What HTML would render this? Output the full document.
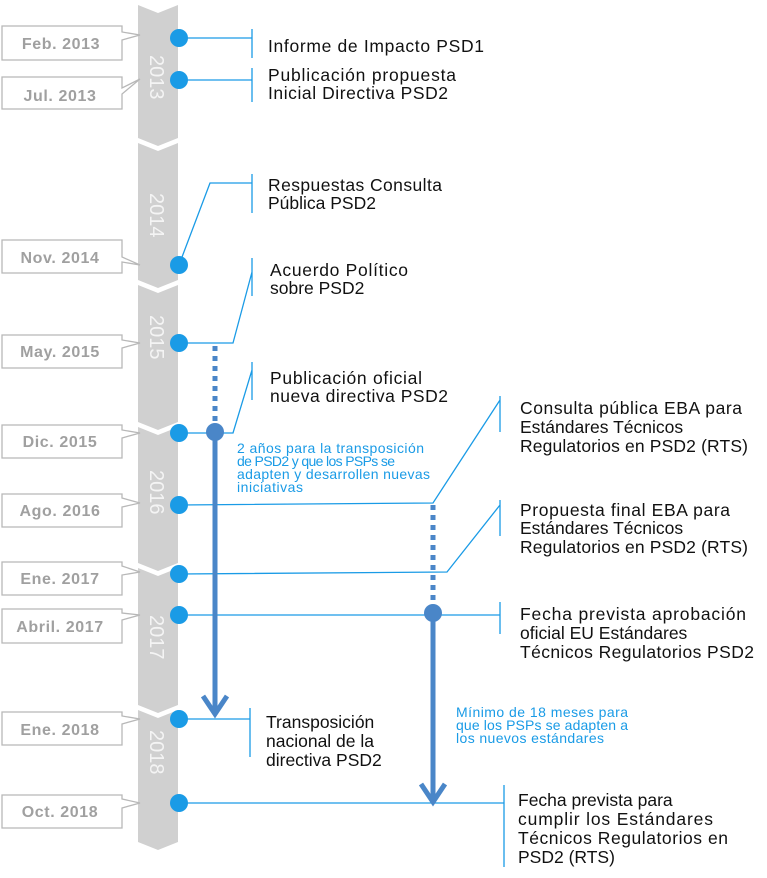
<!DOCTYPE html>
<html><head><meta charset="utf-8"><style>
html,body{margin:0;padding:0;background:#fff;}
svg{display:block;}
.d{font-family:"Liberation Sans",sans-serif;font-weight:bold;font-size:16px;fill:#a0a0a0;text-anchor:middle;letter-spacing:0.6px;}
.t{font-family:"Liberation Sans",sans-serif;font-size:17.5px;fill:#111;}
.b{font-family:"Liberation Sans",sans-serif;font-size:14px;fill:#1a9be6;}
.y{font-family:"Liberation Sans",sans-serif;font-size:20px;fill:#f4f4f4;}
</style></head><body>
<svg width="767" height="878" viewBox="0 0 767 878" xmlns="http://www.w3.org/2000/svg">
<g fill="#d0d0d0">
<polygon points="138,5 158,13 178,5 178,138 158,146 138,138"/>
<polygon points="138,143 158,151 178,143 178,280 158,288 138,280"/>
<polygon points="138,285 158,293 178,285 178,422 158,430 138,422"/>
<polygon points="138,427 158,435 178,427 178,563 158,571 138,563"/>
<polygon points="138,568 158,576 178,568 178,705 158,713 138,705"/>
<polygon points="138,710 158,718 178,710 178,842 158,850 138,842"/>
</g>
<g class="y">
<text transform="translate(150,55) rotate(90)">2013</text>
<text transform="translate(150,193) rotate(90)">2014</text>
<text transform="translate(150,315) rotate(90)">2015</text>
<text transform="translate(150,470) rotate(90)">2016</text>
<text transform="translate(150,615) rotate(90)">2017</text>
<text transform="translate(150,730) rotate(90)">2018</text>
</g>
<g fill="#fff" stroke="#b8b8b8" stroke-width="1.3">
<path d="M2,26 H122 V32 L140,35 L122,40 V60 H2 Z"/>
<path d="M2,77 H122 V88 L140,79 L122,94 V109 H2 Z"/>
<path d="M2,240 H122 V257 L140,265 L122,262 V273 H2 Z"/>
<path d="M2,335 H122 V340 L140,343 L122,348 V368 H2 Z"/>
<path d="M2,425 H122 V430 L140,433 L122,438 V458 H2 Z"/>
<path d="M2,494 H122 V498 L140,503 L122,507 V527 H2 Z"/>
<path d="M2,562 H122 V566 L140,572 L122,575 V595 H2 Z"/>
<path d="M2,609 H122 V613 L140,615 L122,620 V643 H2 Z"/>
<path d="M2,712 H122 V716 L140,719 L122,724 V745 H2 Z"/>
<path d="M2,795 H122 V799 L140,803 L122,808 V828 H2 Z"/>
</g>
<g class="d">
<text x="61" y="49">Feb. 2013</text>
<text x="60" y="101">Jul. 2013</text>
<text x="60" y="263">Nov. 2014</text>
<text x="60" y="357">May. 2015</text>
<text x="60" y="447">Dic. 2015</text>
<text x="60" y="516">Ago. 2016</text>
<text x="60" y="584">Ene. 2017</text>
<text x="60" y="632">Abril. 2017</text>
<text x="60" y="735">Ene. 2018</text>
<text x="60" y="817">Oct. 2018</text>
</g>
<g stroke="#1a9be6" stroke-width="1.3" fill="none">
<path d="M179,38 H252 M252,29 V58"/>
<path d="M179,80 H252 M252,68 V102"/>
<path d="M179,265 L210,183 H252 M252,174 V213"/>
<path d="M179,343 H233 L252,272 M252,258 V296"/>
<path d="M179,433 H233 L252,370 M252,362 V400"/>
<path d="M179,505 L433,503 L500,400 M500,396 V432"/>
<path d="M179,574 L447,572 L500,505 M500,500 V536"/>
<path d="M179,615 H500 M500,602 V634"/>
<path d="M179,719 H250 M250,708 V757"/>
<path d="M179,803 H504 M504,785 V867"/>
</g>
<g fill="#1a9be6">
<circle cx="179" cy="38" r="9"/><circle cx="179" cy="80" r="9"/>
<circle cx="179" cy="265" r="9"/><circle cx="179" cy="343" r="9"/>
<circle cx="179" cy="433" r="9"/><circle cx="179" cy="505" r="9"/>
<circle cx="179" cy="574" r="9"/><circle cx="179" cy="615" r="9"/>
<circle cx="179" cy="719" r="9"/><circle cx="179" cy="803" r="9"/>
</g>
<g stroke="#4a86c8" fill="none">
<path d="M215,346 V424" stroke-width="5" stroke-dasharray="5,5"/>
<path d="M215,433 V712" stroke-width="5"/>
<path d="M203,696 L215,714 L227,696" stroke-width="5"/>
<path d="M433,505 V604" stroke-width="5" stroke-dasharray="5,5"/>
<path d="M433,613 V800" stroke-width="5"/>
<path d="M421,784 L433,802 L445,784" stroke-width="5"/>
</g>
<g fill="#4a86c8"><circle cx="215" cy="432" r="9"/><circle cx="433" cy="613" r="9"/></g>
<g class="t">
<text x="268" y="52" textLength="216">Informe de Impacto PSD1</text>
<text x="268" y="81" textLength="188">Publicación propuesta</text><text x="268" y="99" textLength="180">Inicial Directiva PSD2</text>
<text x="268" y="191" textLength="174">Respuestas Consulta</text><text x="268" y="209">Pública PSD2</text>
<text x="270" y="276" textLength="138">Acuerdo Político</text><text x="270" y="294">sobre PSD2</text>
<text x="270" y="384" textLength="152">Publicación oficial</text><text x="270" y="402" textLength="178">nueva directiva PSD2</text>
<text x="520" y="414" textLength="222">Consulta pública EBA para</text><text x="520" y="433">Estándares Técnicos</text><text x="520" y="452" textLength="228">Regulatorios en PSD2 (RTS)</text>
<text x="520" y="516" textLength="210">Propuesta final EBA para</text><text x="520" y="534">Estándares Técnicos</text><text x="520" y="553" textLength="228">Regulatorios en PSD2 (RTS)</text>
<text x="520" y="620" textLength="226">Fecha prevista aprobación</text><text x="520" y="639">oficial EU Estándares</text><text x="520" y="658" textLength="234">Técnicos Regulatorios PSD2</text>
<text x="266" y="728">Transposición</text><text x="266" y="747">nacional de la</text><text x="266" y="766">directiva PSD2</text>
<text x="518" y="806">Fecha prevista para</text><text x="518" y="825" textLength="195">cumplir  los Estándares</text><text x="518" y="844" textLength="210">Técnicos Regulatorios en</text><text x="518" y="863">PSD2 (RTS)</text>
</g>
<g class="b">
<text x="237" y="453" textLength="187">2 años para la transposición</text>
<text x="237" y="466" textLength="158">de PSD2 y que los PSPs se</text>
<text x="237" y="479" textLength="193">adapten y desarrollen nuevas</text>
<text x="237" y="492" textLength="66">iniciativas</text>
<text x="456" y="717" textLength="172">Mínimo de 18 meses para</text>
<text x="456" y="730" textLength="172">que los PSPs se adapten a</text>
<text x="456" y="743" textLength="148">los nuevos estándares</text>
</g>
</svg>
</body></html>
